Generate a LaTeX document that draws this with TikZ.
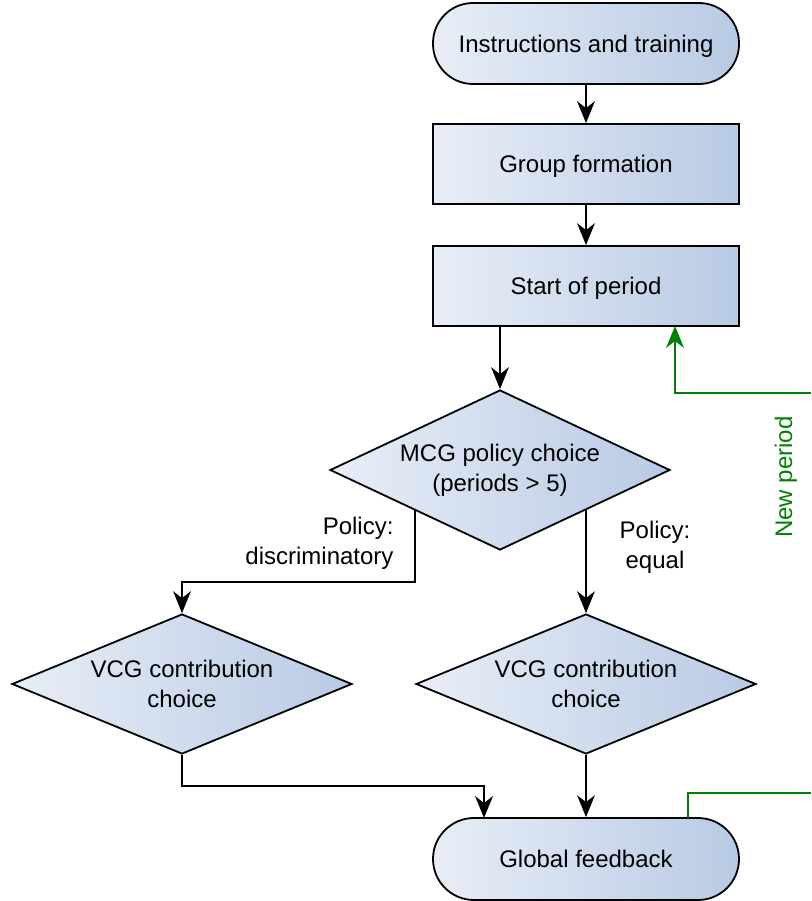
\documentclass[tikz,border=0pt]{standalone}
\usepackage{fontspec}
\setmainfont{Liberation Sans}
\usetikzlibrary{shapes.geometric,arrows.meta}
\definecolor{gl}{RGB}{232,238,247}
\definecolor{gr}{RGB}{184,202,228}
\definecolor{gg}{RGB}{0,128,0}
\tikzset{
  fillgrad/.style={left color=gl,right color=gr,draw=black,line width=1.8pt},
  txt/.style={font=\fontsize{24}{30}\selectfont},
  term/.style={fillgrad,txt,rectangle,rounded corners=40pt,minimum width=306pt,minimum height=81pt,text depth=0pt},
  proc/.style={fillgrad,txt,rectangle,minimum width=306pt,minimum height=80pt,text depth=0pt},
  dec/.style={fillgrad,txt,diamond,inner sep=0pt,align=center,minimum width=340pt},
  tipA/.tip={Stealth[length=22pt,width=18pt,inset=7pt,line width=0pt]},
  conn/.style={line width=2pt,-tipA},
  gconn/.style={line width=2pt,draw=gg,-tipA},
  lbl/.style={txt,align=right},
}
\begin{document}
\begin{tikzpicture}[x=1pt,y=-1pt]
\useasboundingbox (0,0) rectangle (811,901);
\node[term] (ins) at (586,43.5) {Instructions and training};
\node[proc] (grp) at (586,164) {Group formation};
\node[proc] (start) at (586,286) {Start of period};
\node[dec,aspect=2.125,minimum height=160pt] (mcg) at (500,470) {MCG policy choice\\(periods > 5)};
\node[dec,aspect=2.43,minimum height=140pt] (vl) at (182,684) {VCG contribution\\choice};
\node[dec,aspect=2.43,minimum height=140pt] (vr) at (586,684) {VCG contribution\\choice};
\node[term,minimum height=82pt,rounded corners=41pt] (glob) at (586,859) {Global feedback};
\coordinate (mcgl) at (415,510);
\coordinate (mcgr) at (586,510);
\coordinate (gfa) at (484,818);
\coordinate (gout) at (688,818);
\coordinate (gR1) at (811,793);
\coordinate (gR2) at (811,393);
\coordinate (sin) at (675,326);
\draw[conn] (ins) -- (grp);
\draw[conn] (grp) -- (start);
\draw[conn] (start.south -| mcg.north) -- (mcg.north);
\draw[conn] (mcgl) |- (182,582) -- (vl.north);
\draw[conn] (mcgr) -- (vr.north);
\draw[conn] (vl.south) |- (484,786) -- (gfa);
\draw[conn] (vr.south) -- (glob.north);
\draw[line width=2pt,draw=gg] (gout) |- (gR1);
\draw[gconn] (gR2) -| (sin);
\node[lbl,anchor=east] (pd) at (397,543) {Policy:\\discriminatory};
\node[lbl,align=center] (pe) at (655,547) {Policy:\\equal};
\node[txt,text=gg,rotate=90] (np) at (786,477) {New period};
\end{tikzpicture}
\end{document}
